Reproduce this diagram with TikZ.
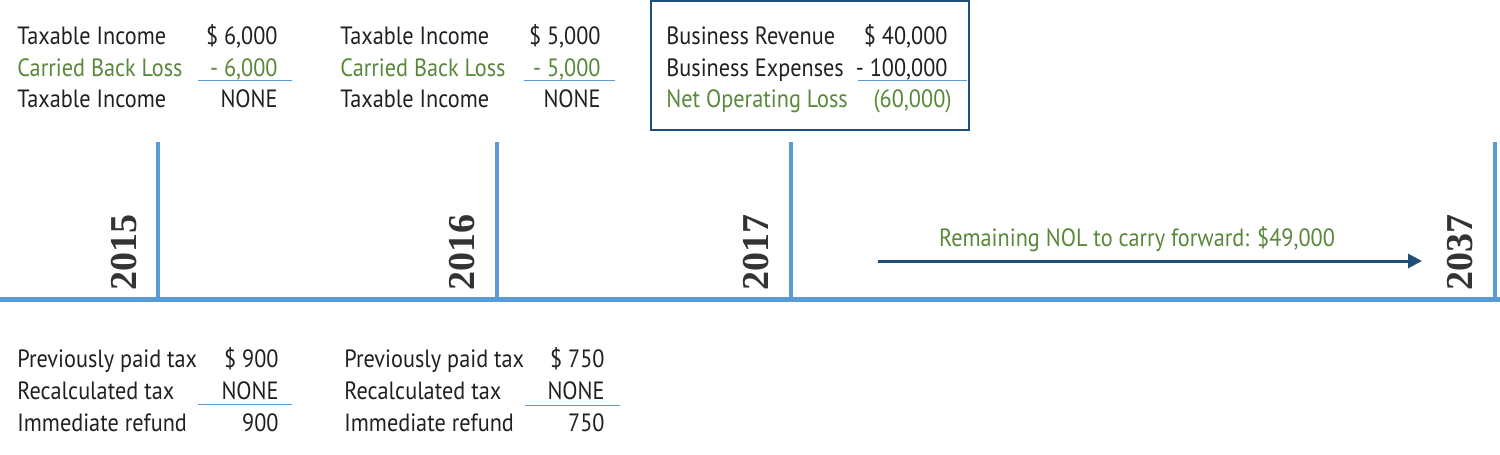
\documentclass[tikz,border=0pt]{standalone}
\usepackage{fontspec}
\setmainfont[FakeStretch=0.89]{PT Sans}
\newfontfamily\yearfont{Liberation Serif}
\definecolor{tlblue}{RGB}{91,155,213}
\definecolor{nolnavy}{RGB}{31,78,121}
\definecolor{nolgreen}{RGB}{88,136,58}
\definecolor{txtblack}{RGB}{35,31,32}
\definecolor{yrgray}{RGB}{51,51,51}
\usetikzlibrary{arrows.meta}

\begin{document}
\begin{tikzpicture}[x=0.5pt, y=-0.5pt,
  lbl/.style={anchor=base west, inner sep=0pt, font=\fontsize{12.5}{14}\selectfont, text=txtblack},
  val/.style={anchor=base east, inner sep=0pt, font=\fontsize{12.5}{14}\selectfont, text=txtblack},
  loss/.style={text=nolgreen},
  yr/.style={rotate=90, anchor=base west, inner sep=0pt, font=\yearfont\bfseries\fontsize{19}{20}\selectfont, text=yrgray},
  sumrule/.style={draw=tlblue, line width=0.5pt},
  tick/.style={draw=tlblue, line width=2pt}
]
  \useasboundingbox (0,0) rectangle (1500,455);

  %% Timeline
  \draw[draw=tlblue, line width=2.5pt] (0,299) -- (1500,299);
  \draw[tick] (158,142) -- (158,299);
  \draw[tick] (497,142) -- (497,299);
  \draw[tick] (791,142) -- (791,299);
  \draw[tick] (1495,142) -- (1495,299);

  %% Years
  \node[yr] (y15) at (136,291) {2015};
  \node[yr] (y16) at (474,291) {2016};
  \node[yr] (y17) at (768,291) {2017};
  \node[yr] (y37) at (1472,291) {2037};

  %% 2015 carry back
  \node[lbl] (ti15) at (17,44) {Taxable Income};
  \node[val] (tiv15) at (278,44) {\$ 6,000};
  \node[lbl, loss] (cb15) at (17,76) {Carried Back Loss};
  \node[val, loss] (cbv15) at (278,76) {- 6,000};
  \node[lbl] (tn15) at (17,107) {Taxable Income};
  \node[val] (tnv15) at (278,107) {NONE};
  \draw[sumrule] (198,80) -- (292,80);

  %% 2016 carry back
  \node[lbl] (ti16) at (340,44) {Taxable Income};
  \node[val] (tiv16) at (601,44) {\$ 5,000};
  \node[lbl, loss] (cb16) at (340,76) {Carried Back Loss};
  \node[val, loss] (cbv16) at (601,76) {- 5,000};
  \node[lbl] (tn16) at (340,107) {Taxable Income};
  \node[val] (tnv16) at (601,107) {NONE};
  \draw[sumrule] (524,80) -- (615,80);

  %% 2017 loss year
  \node[draw=nolnavy, line width=1pt, minimum width=159pt, minimum height=64.5pt, inner sep=0pt] (nolbox) at (810,65.5) {};
  \node[lbl] (rev) at (666,44) {Business Revenue};
  \node[val] (revv) at (948,44) {\$ 40,000};
  \node[lbl] (exp) at (666,76) {Business Expenses};
  \node[val] (expv) at (948,76) {- 100,000};
  \node[lbl, loss] (nol) at (666,107) {Net Operating Loss};
  \node[val, loss] (nolv) at (952,107) {(60,000)};
  \draw[sumrule] (858,80) -- (967,80);

  %% Carry forward
  \coordinate (cfstart) at (878,261);
  \coordinate (cfend) at (1422,261);
  \draw[draw=nolnavy, line width=1.5pt, -{Triangle[length=7pt, width=7pt]}] (cfstart) -- (cfend);
  \node[anchor=base, inner sep=0pt, font=\fontsize{12.5}{14}\selectfont, text=nolgreen] (cflbl) at (1137,246) {Remaining NOL to carry forward: \$49,000};

  %% 2015 refund
  \node[lbl] (pp15) at (17,367) {Previously paid tax};
  \node[val] (ppv15) at (279,367) {\$ 900};
  \node[lbl] (rc15) at (17,399) {Recalculated tax};
  \node[val] (rcv15) at (279,399) {NONE};
  \node[lbl] (rf15) at (17,431) {Immediate refund};
  \node[val] (rfv15) at (279,431) {900};
  \draw[sumrule] (198,404) -- (292,404);

  %% 2016 refund
  \node[lbl] (pp16) at (344,367) {Previously paid tax};
  \node[val] (ppv16) at (605,367) {\$ 750};
  \node[lbl] (rc16) at (344,399) {Recalculated tax};
  \node[val] (rcv16) at (605,399) {NONE};
  \node[lbl] (rf16) at (344,431) {Immediate refund};
  \node[val] (rfv16) at (605,431) {750};
  \draw[sumrule] (525,405) -- (620,405);
\end{tikzpicture}
\end{document}
